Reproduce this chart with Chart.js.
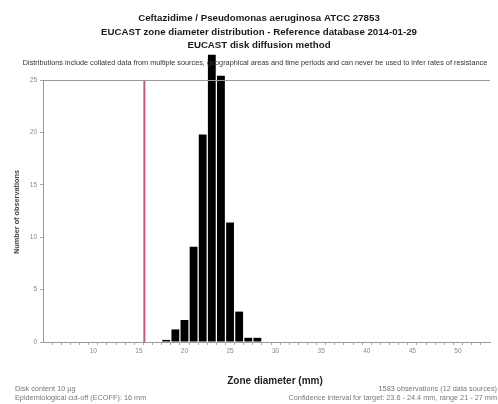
<!DOCTYPE html>
<html>
<head>
<meta charset="utf-8">
<script src="https://cdn.jsdelivr.net/npm/chart.js@4"></script>
<style>
  html, body { margin: 0; padding: 0; background: #fff; }
  #wrap { width: 498px; height: 404px; position: relative; }
</style>
</head>
<body>
<div id="wrap"><canvas id="chart" width="498" height="404"></canvas></div>
<script>
// ---------- DATA ----------
const zoneDiameters = [18, 19, 20, 21, 22, 23, 24, 25, 26, 27, 28];
const observations  = [0.2, 1.2, 2.1, 9.1, 19.8, 27.4, 25.4, 11.4, 2.9, 0.4, 0.4];
const cutoffLine = 15.6;
const yTicks = [0, 5, 10, 15, 20, 25];
const xTicks = [10, 15, 20, 25, 30, 35, 40, 45, 50];

const TITLES = [
  "Ceftazidime / Pseudomonas aeruginosa ATCC 27853",
  "EUCAST zone diameter distribution - Reference database 2014-01-29",
  "EUCAST disk diffusion method"
];
const NOTE = "Distributions include collated data from multiple sources, geographical areas and time periods and can never be used to infer rates of resistance";
const X_TITLE = "Zone diameter (mm)";
const Y_TITLE = "Number of observations";
const FOOT_LEFT = ["Disk content 10 µg", "Epidemiological cut-off (ECOFF): 16 mm"];
const FOOT_RIGHT = ["1583 observations (12 data sources)", "Confidence interval for target: 23.6 - 24.4 mm, range 21 - 27 mm"];

// ---------- TEXTOS ----------
const FONT = "'Liberation Sans', Arial, sans-serif";
const textPlugin = {
  id: "texts",
  afterDraw(chart) {
    const c = chart.ctx;
    const a = chart.chartArea;
    c.save();
    c.fillStyle = "#1a1a1a";
    c.textAlign = "center";
    c.textBaseline = "middle";
    c.font = "bold 9.7px " + FONT;
    [18, 32, 45].forEach((y, i) => c.fillText(TITLES[i], 259, y));
    c.font = "7.3px " + FONT;
    c.fillStyle = "#333";
    c.fillText(NOTE, 255, 63);
    c.font = "bold 10px " + FONT;
    c.fillStyle = "#222";
    c.fillText(X_TITLE, 275, 381);
    c.save();
    c.translate(17, 212);
    c.rotate(-Math.PI / 2);
    c.font = "bold 7.3px " + FONT;
    c.fillStyle = "#444";
    c.fillText(Y_TITLE, 0, 0);
    c.restore();
    c.font = "7.3px " + FONT;
    c.fillStyle = "#777";
    c.textAlign = "left";
    c.fillText(FOOT_LEFT[0], 15, 389);
    c.fillText(FOOT_LEFT[1], 15, 398);
    c.textAlign = "right";
    c.fillText(FOOT_RIGHT[0], 497, 389);
    c.fillText(FOOT_RIGHT[1], 497, 398);
    // marco
    c.strokeStyle = "#999";
    c.lineWidth = 1;
    c.beginPath();
    c.moveTo(a.left + 0.5, a.bottom);
    c.lineTo(a.left + 0.5, a.top + 0.5);
    c.lineTo(a.right, a.top + 0.5);
    c.stroke();
    c.restore();
  }
};

// ---------- GRAFICO ----------
new Chart(document.getElementById("chart"), {
  data: {
    datasets: [
      {
        type: "bar",
        data: zoneDiameters.map((d, i) => ({ x: d, y: observations[i] })),
        backgroundColor: "#000",
        borderWidth: 0,
        barPercentage: 0.86,
        categoryPercentage: 1,
        clip: false,
        order: 2
      },
      {
        type: "line",
        data: [{ x: cutoffLine, y: 0 }, { x: cutoffLine, y: 25 }],
        borderColor: "#c25a74",
        borderWidth: 2,
        pointRadius: 0,
        order: 1
      }
    ]
  },
  options: {
    responsive: false,
    animation: false,
    layout: { padding: { top: 80, left: 0, right: 8, bottom: 0 } },
    plugins: { legend: { display: false }, tooltip: { enabled: false } },
    scales: {
      x: {
        type: "linear",
        min: 5,
        max: 53,
        afterFit: s => { s.height = 62; },
        afterBuildTicks: s => {
          const t = [];
          for (let v = 6; v <= 52; v++) t.push({ value: v });
          s.ticks = t;
        },
        ticks: {
          autoSkip: false,
          maxRotation: 0,
          color: "#888",
          font: { size: 6.5, family: FONT },
          padding: 2,
          callback: v => xTicks.includes(v) ? String(v) : ""
        },
        grid: { drawOnChartArea: false, tickLength: 3, color: "#aaa" },
        border: { color: "#999" }
      },
      y: {
        min: 0,
        max: 25,
        afterFit: s => { s.width = 43; },
        afterBuildTicks: s => { s.ticks = yTicks.map(v => ({ value: v })); },
        ticks: {
          color: "#888",
          font: { size: 6.5, family: FONT },
          padding: 3
        },
        grid: { drawOnChartArea: false, tickLength: 3, color: "#aaa" },
        border: { color: "#999" }
      }
    }
  },
  plugins: [textPlugin]
});
</script>
</body>
</html>
